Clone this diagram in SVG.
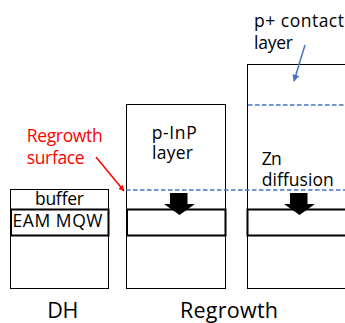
<svg xmlns="http://www.w3.org/2000/svg" width="345" height="323" viewBox="0 0 345 323">
<defs>
<style>
.box{fill:#fff;stroke:#000;stroke-width:1}
.mqw{fill:#fff;stroke:#000;stroke-width:2}
.t{font-family:"Open Sans","Noto Sans","DejaVu Sans",sans-serif;font-size:17.5px;fill:#000}
.big{font-size:21.5px}
.red{fill:#ff0000}
.dash{stroke:#4472c4;stroke-width:1.5;stroke-dasharray:4.5,2.5;fill:none}
.blk{fill:#000}
</style>
<marker id="ar" viewBox="0 0 10 10" refX="9" refY="5" markerWidth="6" markerHeight="6" orient="auto-start-reverse" markerUnits="userSpaceOnUse">
<path d="M0,0 L10,5 L0,10 z" fill="#ff0000"/>
</marker>
<marker id="ab" viewBox="0 0 10 10" refX="9" refY="5" markerWidth="7" markerHeight="7" orient="auto-start-reverse" markerUnits="userSpaceOnUse">
<path d="M0,0 L10,5 L0,10 z" fill="#4472c4"/>
</marker>
</defs>
<rect width="345" height="323" fill="#fff"/>

<g id="dh">
<rect class="box" x="10.5" y="189.5" width="98" height="99"/>
<rect class="mqw" x="11" y="209.5" width="97.5" height="26"/>
<text class="t" x="35" y="205" textLength="49">buffer</text>
<text class="t" x="12.5" y="227" textLength="90">EAM MQW</text>
<text class="t big" x="47.3" y="318" textLength="31">DH</text>
</g>

<g id="regrowth-pinp">
<rect class="box" x="126.5" y="104.5" width="99" height="184"/>
<rect class="mqw" x="127" y="209.5" width="98.5" height="26"/>
<text class="t" x="151.7" y="138.5" textLength="45">p-InP</text>
<text class="t" x="152" y="159" textLength="41">layer</text>
<polygon class="blk" points="170,193 187.5,193 187.5,204 195,204 179.5,215 164,204 170,204"/>
</g>

<g id="regrowth-zn">
<rect class="box" x="247.5" y="64.5" width="110" height="224"/>
<rect class="mqw" x="247.5" y="209.5" width="110" height="26"/>
<text class="t" x="261.7" y="165" textLength="20">Zn</text>
<text class="t" x="261.7" y="186" textLength="72">diffusion</text>
<polygon class="blk" points="290,193 307.5,193 307.5,204 315,204 299.5,215 284,204 290,204"/>
</g>

<g id="labels">
<text class="t big" x="180" y="318" textLength="98">Regrowth</text>
<text class="t red" x="26.7" y="141.5" textLength="76">Regrowth</text>
<text class="t red" x="26.7" y="163.5" textLength="58">surface</text>
<text class="t" x="254" y="27" textLength="90">p+ contact</text>
<text class="t" x="254" y="48.5" textLength="39">layer</text>
</g>

<g id="connectors">
<line class="dash" x1="126" y1="190" x2="345" y2="190"/>
<line class="dash" x1="248" y1="105" x2="345" y2="105"/>
<line x1="96" y1="157" x2="124" y2="191" stroke="#ff0000" stroke-width="1.5" marker-end="url(#ar)"/>
<line x1="305" y1="45" x2="294" y2="81" stroke="#4472c4" stroke-width="1.5" marker-end="url(#ab)"/>
</g>
</svg>
